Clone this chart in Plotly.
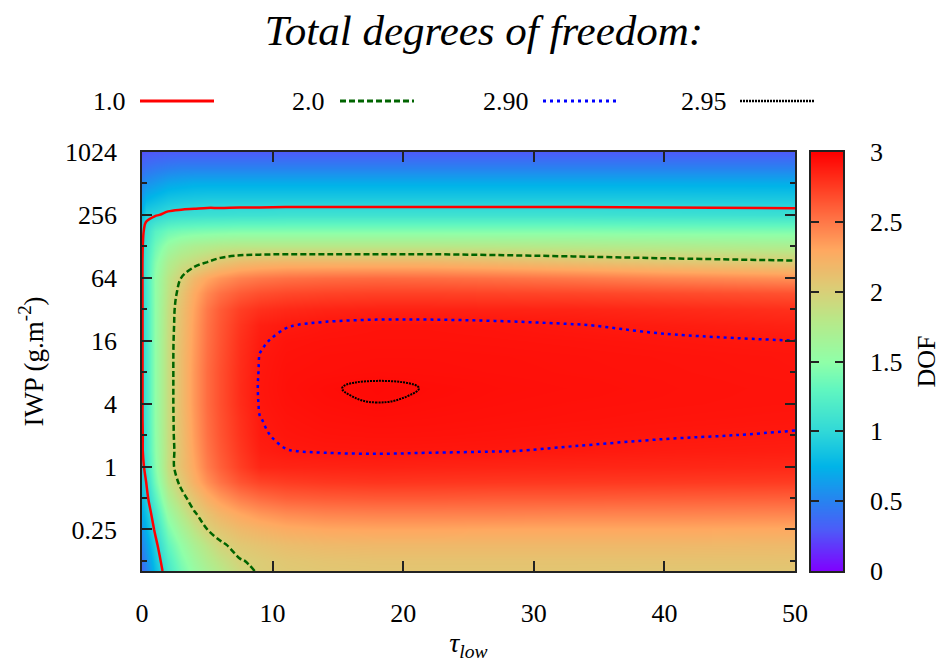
import plotly.graph_objects as go

# optical depth of the low cloud layer (x) and ice water path in g/m^2 (y)
tau_low = [0, 0.3, 1, 2, 3, 4, 5, 6, 7.5, 9, 11, 14, 18, 22, 27, 33, 40, 50]
iwp = [0.1, 0.125, 0.177, 0.25, 0.354, 0.5, 0.707, 1, 1.41, 2, 2.83, 4, 4.76, 5.66, 6.73, 8,
       11.3, 16, 22.6, 32, 45.3, 64, 90.5, 128, 181, 256, 362, 512, 724, 1024]

# total degrees of freedom, one row per IWP level (bottom to top), one column per tau_low
dof = [
    [0.36, 0.50, 0.80, 1.15, 1.38, 1.55, 1.68, 1.79, 1.94, 2.02, 2.05, 2.07, 2.08, 2.08, 2.08, 2.08, 2.07, 2.07],
    [0.42, 0.55, 0.85, 1.20, 1.43, 1.60, 1.74, 1.85, 1.99, 2.03, 2.07, 2.09, 2.10, 2.10, 2.10, 2.10, 2.10, 2.10],
    [0.52, 0.64, 0.93, 1.30, 1.52, 1.70, 1.84, 1.97, 2.06, 2.10, 2.14, 2.17, 2.18, 2.18, 2.18, 2.18, 2.18, 2.17],
    [0.62, 0.75, 1.03, 1.42, 1.65, 1.84, 2.00, 2.08, 2.17, 2.22, 2.27, 2.30, 2.31, 2.31, 2.30, 2.30, 2.30, 2.29],
    [0.72, 0.84, 1.12, 1.55, 1.78, 1.98, 2.10, 2.20, 2.30, 2.37, 2.42, 2.45, 2.46, 2.46, 2.46, 2.45, 2.45, 2.44],
    [0.80, 0.92, 1.25, 1.70, 1.93, 2.10, 2.25, 2.36, 2.48, 2.55, 2.60, 2.62, 2.63, 2.63, 2.62, 2.62, 2.61, 2.60],
    [0.88, 0.99, 1.38, 1.83, 2.05, 2.24, 2.40, 2.52, 2.65, 2.72, 2.75, 2.77, 2.78, 2.775, 2.77, 2.765, 2.76, 2.75],
    [0.93, 1.07, 1.45, 1.90, 2.12, 2.30, 2.48, 2.60, 2.74, 2.84, 2.85, 2.855, 2.86, 2.855, 2.85, 2.845, 2.84, 2.83],
    [0.97, 1.12, 1.48, 1.89, 2.12, 2.33, 2.51, 2.63, 2.77, 2.875, 2.898, 2.906, 2.909, 2.906, 2.902, 2.895, 2.885, 2.875],
    [0.97, 1.12, 1.49, 1.90, 2.13, 2.35, 2.53, 2.65, 2.79, 2.892, 2.912, 2.922, 2.926, 2.925, 2.920, 2.912, 2.905, 2.896],
    [0.98, 1.13, 1.50, 1.90, 2.14, 2.36, 2.54, 2.66, 2.80, 2.898, 2.920, 2.932, 2.938, 2.935, 2.930, 2.925, 2.918, 2.910],
    [0.98, 1.13, 1.50, 1.90, 2.15, 2.37, 2.55, 2.67, 2.815, 2.905, 2.928, 2.940, 2.949, 2.942, 2.936, 2.930, 2.925, 2.918],
    [0.98, 1.13, 1.50, 1.90, 2.15, 2.37, 2.55, 2.67, 2.818, 2.907, 2.930, 2.944, 2.956, 2.946, 2.938, 2.933, 2.927, 2.919],
    [0.98, 1.13, 1.50, 1.90, 2.15, 2.37, 2.55, 2.67, 2.82, 2.908, 2.932, 2.946, 2.958, 2.948, 2.940, 2.935, 2.928, 2.920],
    [0.98, 1.13, 1.50, 1.90, 2.15, 2.37, 2.55, 2.67, 2.818, 2.907, 2.931, 2.941, 2.949, 2.943, 2.938, 2.933, 2.927, 2.918],
    [0.98, 1.13, 1.50, 1.90, 2.15, 2.37, 2.55, 2.67, 2.815, 2.905, 2.930, 2.935, 2.940, 2.938, 2.935, 2.930, 2.925, 2.915],
    [0.98, 1.13, 1.50, 1.90, 2.15, 2.36, 2.54, 2.66, 2.81, 2.902, 2.925, 2.932, 2.935, 2.935, 2.932, 2.928, 2.922, 2.913],
    [0.98, 1.13, 1.50, 1.90, 2.14, 2.35, 2.53, 2.65, 2.80, 2.890, 2.918, 2.925, 2.928, 2.928, 2.925, 2.920, 2.912, 2.900],
    [0.98, 1.13, 1.50, 1.89, 2.13, 2.34, 2.52, 2.64, 2.78, 2.870, 2.895, 2.9125, 2.921, 2.921, 2.916, 2.903, 2.885, 2.860],
    [0.98, 1.13, 1.50, 1.88, 2.12, 2.32, 2.50, 2.62, 2.74, 2.80, 2.83, 2.85, 2.86, 2.86, 2.855, 2.85, 2.83, 2.80],
    [0.98, 1.14, 1.50, 1.85, 2.08, 2.28, 2.43, 2.53, 2.62, 2.67, 2.70, 2.72, 2.73, 2.73, 2.72, 2.71, 2.69, 2.66],
    [0.98, 1.15, 1.50, 1.82, 2.00, 2.18, 2.30, 2.38, 2.46, 2.50, 2.53, 2.55, 2.56, 2.55, 2.53, 2.50, 2.45, 2.40],
    [0.98, 1.15, 1.45, 1.72, 1.85, 1.92, 2.00, 2.08, 2.15, 2.18, 2.20, 2.20, 2.20, 2.20, 2.17, 2.13, 2.08, 2.03],
    [0.97, 1.12, 1.36, 1.56, 1.66, 1.72, 1.75, 1.78, 1.80, 1.80, 1.80, 1.80, 1.80, 1.80, 1.79, 1.77, 1.75, 1.72],
    [0.95, 1.06, 1.25, 1.36, 1.40, 1.42, 1.43, 1.44, 1.45, 1.45, 1.45, 1.45, 1.45, 1.45, 1.45, 1.45, 1.44, 1.43],
    [0.78, 0.95, 0.98, 1.04, 1.06, 1.07, 1.08, 1.08, 1.09, 1.09, 1.10, 1.10, 1.10, 1.10, 1.10, 1.10, 1.09, 1.08],
    [0.65, 0.75, 0.80, 0.86, 0.88, 0.89, 0.90, 0.90, 0.90, 0.90, 0.90, 0.90, 0.90, 0.90, 0.90, 0.90, 0.90, 0.89],
    [0.52, 0.58, 0.62, 0.68, 0.70, 0.72, 0.72, 0.72, 0.72, 0.72, 0.72, 0.72, 0.72, 0.72, 0.72, 0.72, 0.72, 0.72],
    [0.38, 0.42, 0.45, 0.48, 0.50, 0.50, 0.50, 0.50, 0.50, 0.50, 0.50, 0.50, 0.50, 0.50, 0.50, 0.50, 0.50, 0.50],
    [0.26, 0.28, 0.29, 0.30, 0.30, 0.30, 0.30, 0.30, 0.30, 0.30, 0.30, 0.30, 0.30, 0.30, 0.30, 0.30, 0.30, 0.30],
]

# contour levels and their styles
levels = [1.0, 2.0, 2.90, 2.95]
level_labels = ["1.0", "2.0", "2.90", "2.95"]
level_colors = ["#ff0000", "#006400", "#0000ff", "#000000"]
level_dashes = ["solid", "6px,3px", "3px,4px", "2px,1px"]
level_widths = [2.5, 2.5, 2.5, 2.0]
level_smoothing = [1.0, 1.0, 1.0, 1.3]

# axis ticks
x_ticks = [0, 10, 20, 30, 40, 50]
y_major = [0.25, 1, 4, 16, 64, 256, 1024]
y_major_text = ["0.25", "1", "4", "16", "64", "256", "1024"]
y_minor = [0.125, 0.5, 2, 8, 32, 128, 512]

# colour bar scale
dof_range = [0, 3]
cb_ticks = [0, 0.5, 1, 1.5, 2, 2.5, 3]
cb_text = ["0", "0.5", "1", "1.5", "2", "2.5", "3"]

FONT = "Liberation Serif"
W, H = 941, 662
L, R, T, B = 142, 98, 152, 91
PW = W - L - R
PH = H - T - B


def px_x(p):
    return (p - L) / PW


def px_y(p):
    return (H - B - p) / PH


palette = [
    [0.0, "#8000ff"],
    [0.1, "#4c5cf8"],
    [0.1667, "#2882f0"],
    [0.25, "#00b4e8"],
    [0.3333, "#30d8d8"],
    [0.4333, "#60f6c0"],
    [0.5, "#90ffa8"],
    [0.6, "#b8e888"],
    [0.6667, "#d8d078"],
    [0.7667, "#ffa860"],
    [0.8333, "#ff7848"],
    [0.9167, "#ff3c22"],
    [1.0, "#ff0000"],
]

fig = go.Figure()
fig.add_trace(go.Heatmap(
    x=tau_low, y=iwp, z=dof, zmin=dof_range[0], zmax=dof_range[1], zsmooth="best",
    colorscale=palette, hoverinfo="skip", showscale=False,
))

for lvl, col, dash, wid, sm in zip(levels, level_colors, level_dashes, level_widths, level_smoothing):
    fig.add_trace(go.Contour(
        x=tau_low, y=iwp, z=dof, autocontour=False,
        contours=dict(start=lvl, end=lvl, size=0.01, coloring="none", showlabels=False),
        line=dict(color=col, width=wid, dash=dash, smoothing=sm),
        showscale=False, showlegend=False, hoverinfo="skip",
    ))

# colour bar drawn as a narrow gradient panel with its own axes
fig.add_trace(go.Heatmap(
    x=[0, 1], y=dof_range, z=[[dof_range[0], dof_range[0]], [dof_range[1], dof_range[1]]],
    zmin=dof_range[0], zmax=dof_range[1], zsmooth="best", colorscale=palette,
    showscale=False, hoverinfo="skip", xaxis="x2", yaxis="y2",
))

shapes = []
annotations = []
# key above the plot: label followed by a line sample
key_text_right = [128, 327, 531, 729]
key_line = [(140, 214), (340, 414), (543, 617), (740, 815)]
key_y = px_y(101)
for lab, col, dash, wid, tx, (lx0, lx1) in zip(level_labels, level_colors, level_dashes,
                                               level_widths, key_text_right, key_line):
    annotations.append(dict(
        text=lab, xref="paper", yref="paper", x=px_x(tx), y=key_y,
        xanchor="right", yanchor="middle", showarrow=False,
        font=dict(family=FONT, size=26, color="black"),
    ))
    shapes.append(dict(
        type="line", xref="paper", yref="paper",
        x0=px_x(lx0), x1=px_x(lx1), y0=key_y, y1=key_y,
        line=dict(color=col, width=wid + 0.5, dash=dash),
    ))

axis_line = dict(showline=True, linecolor="#222", linewidth=1.5, showgrid=False, zeroline=False)

fig.update_layout(
    width=W, height=H,
    margin=dict(l=L, r=R, t=T, b=B, autoexpand=False),
    paper_bgcolor="white", plot_bgcolor="white",
    font=dict(family=FONT, size=26, color="black"),
    title=dict(text="<i>Total degrees of freedom:</i>", x=px_x(484), xref="paper",
               xanchor="center", y=1 - 30 / H, yref="container", yanchor="middle",
               font=dict(family=FONT, size=43, color="black")),
    showlegend=False,
    shapes=shapes, annotations=annotations,
    xaxis=dict(
        domain=[0, px_x(795)], range=[0, 50], tickvals=x_ticks,
        ticks="inside", ticklen=10, tickwidth=1.5, tickcolor="#222", mirror="ticks",
        ticklabelstandoff=18, tickfont=dict(family=FONT, size=26),
        title=dict(text="<i>τ<sub>low</sub></i>", font=dict(family=FONT, size=28), standoff=8),
        **axis_line,
    ),
    yaxis=dict(
        type="log", range=[-1, 3.0103], tickvals=y_major, ticktext=y_major_text,
        ticks="inside", ticklen=10, tickwidth=1.5, tickcolor="#222", mirror="ticks",
        minor=dict(tickvals=y_minor, ticks="inside", ticklen=5, tickwidth=1.5, tickcolor="#222",
                   showgrid=False),
        ticklabelstandoff=18, tickfont=dict(family=FONT, size=26),
        title=dict(text="IWP (g.m<sup>-2</sup>)", font=dict(family=FONT, size=27), standoff=14),
        **axis_line,
    ),
    xaxis2=dict(
        domain=[px_x(811), 1.0], range=[0, 1], anchor="y2", mirror=True,
        ticks="", showticklabels=False, fixedrange=True, **axis_line,
    ),
    yaxis2=dict(
        domain=[0, 1], range=dof_range, anchor="x2", side="right",
        tickvals=cb_ticks, ticktext=cb_text, ticks="inside", ticklen=8, tickwidth=1.5,
        tickcolor="#222", mirror="ticks", ticklabelstandoff=20,
        tickfont=dict(family=FONT, size=26),
        title=dict(text="DOF", font=dict(family=FONT, size=26), standoff=18),
        fixedrange=True, **axis_line,
    ),
)

fig.write_html("out.html")
